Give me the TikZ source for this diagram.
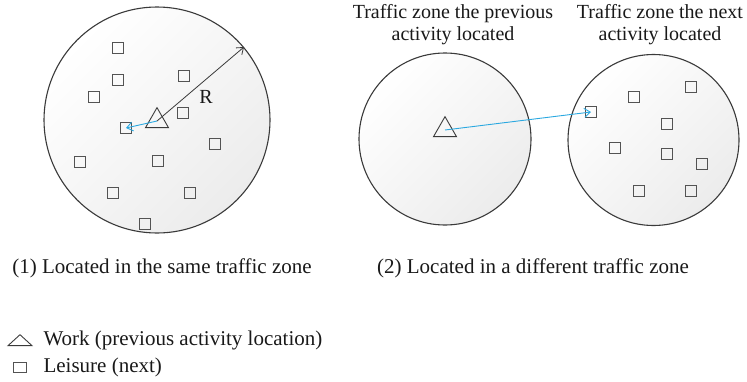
\documentclass[tikz,border=0pt]{standalone}
\usepackage{fontspec}
\setmainfont{Liberation Serif}
\usetikzlibrary{positioning, arrows.meta, shapes.geometric}
\definecolor{linkblue}{HTML}{2AA8E0}
\definecolor{edgegray}{HTML}{3A3A3A}
\tikzset{
x=1pt, y=-1pt, % coordinates are given in points, y grows downwards
every node/.style={font=\fontsize{20}{22}\selectfont, text=black!90},
bigtext/.style={font=\fontsize{21}{23}\selectfont}, % captions and legend
zone/.style={circle, draw=edgegray, line width=1.1pt, shading=axis, top color=white, bottom color=gray!15, shading angle=45}, % a traffic zone
work/.style={isosceles triangle, isosceles triangle stretches, shape border rotate=90, draw=edgegray, line width=0.9pt, minimum width=23pt, minimum height=20pt, inner sep=0pt}, % work place
leisure/.style={rectangle, draw=gray!65!black, line width=0.9pt, minimum size=10.5pt, inner sep=0pt}, % leisure place
move/.style={-{Straight Barb[length=6pt, width=9pt]}, linkblue, line width=0.9pt},
}

\begin{document}
\begin{tikzpicture}
    \useasboundingbox (0,0) rectangle (747,381);

    % the three zones
    \node[zone, minimum size=226pt] (z1) at (157,120) {};
    \node[zone, minimum size=172pt] (z2) at (445,139) {};
    \node[zone, minimum size=171pt] (z3) at (653.5,140) {};

    \node[align=center] (t2) at (453,25) {Traffic zone the previous\\activity located};
    \node[align=center] (t3) at (660,25) {Traffic zone the next\\activity located};

    % places
    \node[work] (w1) at (157,121) {};
    \node[work] (w2) at (445,130) {};
    \foreach \p [count=\i] in {(118,48),(118,80),(94,97),(184,76),(183,113),(126,128),
                               (215,144),(80,162),(158,161),(113,193),(190,193),(145,224)}
        \node[leisure] (a\i) at \p {};
    \foreach \p [count=\i] in {(691,87),(634,97),(591,112),(667,124),(615,148),
                               (667,154),(702,164),(639,191),(691,191)}
        \node[leisure] (b\i) at \p {};

    \draw[-{Straight Barb[length=6pt, width=9pt]}, edgegray, line width=0.8pt] (w1.center) -- (z1.40);
    \node (rad) at (206,97) {R};
    \draw[move] (w1.center) -- (a6.center);
    \draw[move] (w2.center) -- (b3.center);

    % captions
    \node[bigtext] (c1) at (162,268) {(1) Located in the same traffic zone};
    \node[bigtext] (c2) at (533,268) {(2) Located in a different traffic zone};

    % legend
    \node[work, minimum width=24pt, minimum height=11pt] (lw) at (20,341) {};
    \node[bigtext, anchor=west] (lwt) at (40,340) {Work (previous activity location)};
    \node[leisure, minimum width=13pt, minimum height=10pt] (ll) at (20,367) {};
    \node[bigtext, anchor=west] (llt) at (lwt.west |- ll) {Leisure (next)};
\end{tikzpicture}
\end{document}
